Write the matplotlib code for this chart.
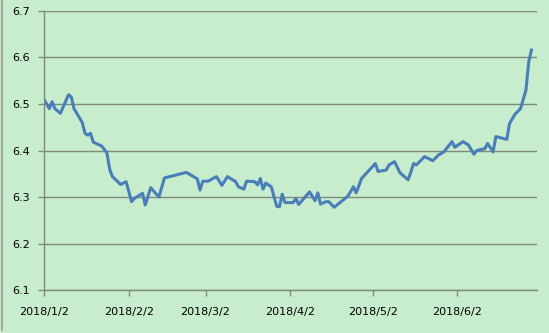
import pandas as pd
import matplotlib
matplotlib.use("Agg")
import matplotlib.pyplot as plt
from matplotlib.lines import Line2D

# 2018 USD/CNY style series
dates = [
    "2018-01-02", "2018-01-04", "2018-01-05", "2018-01-06", "2018-01-08",
    "2018-01-11", "2018-01-12", "2018-01-13", "2018-01-16", "2018-01-17",
    "2018-01-18", "2018-01-19", "2018-01-20", "2018-01-23", "2018-01-25",
    "2018-01-26", "2018-01-27", "2018-01-30", "2018-02-01", "2018-02-03",
    "2018-02-04", "2018-02-07", "2018-02-08", "2018-02-10", "2018-02-13",
    "2018-02-15", "2018-02-17", "2018-02-23", "2018-02-27", "2018-02-28",
    "2018-03-01", "2018-03-03", "2018-03-06", "2018-03-08", "2018-03-10",
    "2018-03-13", "2018-03-14", "2018-03-16", "2018-03-17", "2018-03-20",
    "2018-03-21", "2018-03-22", "2018-03-23", "2018-03-24", "2018-03-26",
    "2018-03-28", "2018-03-29", "2018-03-30", "2018-03-31", "2018-04-03",
    "2018-04-04", "2018-04-05", "2018-04-09", "2018-04-11", "2018-04-12",
    "2018-04-13", "2018-04-15", "2018-04-16", "2018-04-18", "2018-04-23",
    "2018-04-25", "2018-04-26", "2018-04-28", "2018-05-03", "2018-05-04",
    "2018-05-07", "2018-05-08", "2018-05-10", "2018-05-12", "2018-05-15",
    "2018-05-17", "2018-05-18", "2018-05-20", "2018-05-21", "2018-05-24",
    "2018-05-26", "2018-05-28", "2018-05-31", "2018-06-01", "2018-06-04",
    "2018-06-06", "2018-06-08", "2018-06-09", "2018-06-12", "2018-06-13",
    "2018-06-15", "2018-06-16", "2018-06-20", "2018-06-21", "2018-06-23",
    "2018-06-25", "2018-06-27", "2018-06-28", "2018-06-29",
]
values = [
    6.510, 6.490, 6.505, 6.490, 6.480,
    6.520, 6.515, 6.490, 6.460, 6.437,
    6.433, 6.437, 6.418, 6.410, 6.395,
    6.360, 6.344, 6.327, 6.333, 6.290,
    6.297, 6.308, 6.283, 6.320, 6.300,
    6.341, 6.344, 6.353, 6.339, 6.315,
    6.334, 6.334, 6.344, 6.325, 6.344,
    6.333, 6.322, 6.317, 6.334, 6.333,
    6.326, 6.340, 6.317, 6.330, 6.322,
    6.280, 6.279, 6.306, 6.288, 6.288,
    6.297, 6.284, 6.311, 6.292, 6.309,
    6.285, 6.290, 6.290, 6.278, 6.302,
    6.322, 6.309, 6.340, 6.372, 6.355,
    6.358, 6.369, 6.376, 6.352, 6.337,
    6.372, 6.369, 6.381, 6.387, 6.378,
    6.390, 6.397, 6.419, 6.407, 6.419,
    6.412, 6.392, 6.400, 6.404, 6.415,
    6.397, 6.430, 6.424, 6.458, 6.478,
    6.490, 6.530, 6.590, 6.616,
]
tick_dates = ["2018-01-02", "2018-02-02", "2018-03-02",
              "2018-04-02", "2018-05-02", "2018-06-02"]
tick_labels = ["2018/1/2", "2018/2/2", "2018/3/2",
               "2018/4/2", "2018/5/2", "2018/6/2"]
y_ticks = [6.1, 6.2, 6.3, 6.4, 6.5, 6.6, 6.7]

bg = "#c8edcd"
grid_c = "#7f8a7c"

fig = plt.figure(figsize=(5.49, 3.33), dpi=100, facecolor=bg)
ax = fig.add_axes([0.080, 0.129, 0.898, 0.838])
ax.set_facecolor(bg)

x = pd.to_datetime(dates)
ax.plot(x, values, color="#4a7ebb", linewidth=2.2, solid_joinstyle="round")

ax.set_xlim(pd.Timestamp("2018-01-02"), pd.Timestamp("2018-07-01"))
ax.set_ylim(6.1, 6.7)
ax.set_yticks(y_ticks)
ax.set_yticklabels([f"{v:.1f}" for v in y_ticks])
ax.set_xticks(pd.to_datetime(tick_dates))
ax.set_xticklabels(tick_labels)

ax.grid(axis="y", color=grid_c, linewidth=1.0)
ax.set_axisbelow(True)
for s in ["top", "right"]:
    ax.spines[s].set_visible(False)
for s in ["left", "bottom"]:
    ax.spines[s].set_color(grid_c)
    ax.spines[s].set_linewidth(1.0)

ax.tick_params(axis="both", colors=grid_c, labelcolor="black",
               labelsize=8, length=4, width=1.0)
ax.tick_params(axis="x", pad=8)
ax.tick_params(axis="y", pad=6)

# grey border on the left edge of the chart area
fig.lines.append(Line2D([0.003, 0.003], [0.01, 1.0], transform=fig.transFigure,
                        color="#a0a8a0", linewidth=1.5))

fig.savefig("out.png", dpi=100, facecolor=bg)
